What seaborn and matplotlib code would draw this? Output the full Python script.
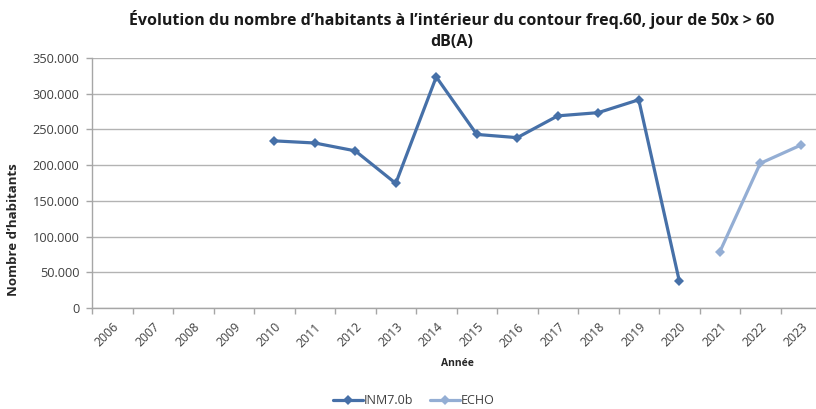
import matplotlib
matplotlib.use("Agg")
import matplotlib.pyplot as plt
from matplotlib.ticker import FuncFormatter, FixedLocator
from matplotlib.lines import Line2D
import seaborn as sns
import pandas as pd

years = list(range(2006, 2024))

inm_years = [2010, 2011, 2012, 2013, 2014, 2015, 2016, 2017, 2018, 2019, 2020]
inm_values = [234000, 231000, 220000, 174500, 323500, 243000, 238500, 269000, 273500, 291500, 38000]

echo_years = [2021, 2022, 2023]
echo_values = [78500, 202500, 228000]

series_names = ["INM7.0b", "ECHO"]
series_colors = ["#4670a8", "#94aed4"]

y_ticks = [0, 50000, 100000, 150000, 200000, 250000, 300000, 350000]

df = pd.DataFrame({
    "Année": inm_years + echo_years,
    "Nombre": inm_values + echo_values,
    "Série": [series_names[0]] * len(inm_years) + [series_names[1]] * len(echo_years),
})

sns.set_theme(style="white")
plt.rcParams["font.family"] = ["Open Sans", "DejaVu Sans"]

fig = plt.figure(figsize=(8.16, 4.09), dpi=100)
ax = fig.add_axes([92 / 816, 101 / 409, 729 / 816, 250 / 409])

palette = dict(zip(series_names, series_colors))
sns.lineplot(data=df, x="Année", y="Nombre", hue="Série", palette=palette,
             marker="D", markersize=5.5, markeredgewidth=0, linewidth=2.3,
             legend=False, ax=ax)

ax.set_xlim(years[0] - 0.5, years[-1] + 0.5)
ax.set_ylim(y_ticks[0], y_ticks[-1])

# labels at category centres, tick marks on category boundaries
ax.xaxis.set_major_locator(FixedLocator(years))
ax.set_xticklabels([str(y) for y in years], rotation=45, ha="right",
                   rotation_mode="anchor", fontsize=8.8, color="#404040")
ax.xaxis.set_minor_locator(FixedLocator([y - 0.5 for y in years] + [years[-1] + 0.5]))
ax.tick_params(axis="x", which="major", length=0, pad=9)
ax.tick_params(axis="x", which="minor", length=4, width=1, color="#a6a6a6", direction="out")

ax.set_yticks(y_ticks)
ax.yaxis.set_major_formatter(FuncFormatter(lambda v, _: f"{v:,.0f}".replace(",", ".")))
ax.tick_params(axis="y", which="major", length=4, width=1, color="#a6a6a6",
               direction="out", labelsize=9.2, labelcolor="#404040", pad=5)
ax.tick_params(axis="both", which="both", bottom=True, left=True)

ax.grid(axis="y", color="#b3b3b3", linewidth=1)
ax.grid(axis="x", visible=False)
for side in ["top", "right"]:
    ax.spines[side].set_visible(False)
for side in ["left", "bottom"]:
    ax.spines[side].set_color("#a6a6a6")
    ax.spines[side].set_linewidth(1)

ax.set_xlabel("Année", fontsize=7.5, fontweight="bold", color="#262626")
ax.xaxis.set_label_coords(0.5007, -0.2)
ax.set_ylabel("Nombre d’habitants", fontsize=9.5, fontweight="bold", color="#262626")
ax.yaxis.set_label_coords(-0.099, 0.312)

fig.text(452 / 816, 1 - 30 / 409,
         "Évolution du nombre d’habitants à l’intérieur du contour freq.60, jour de 50x > 60\ndB(A)",
         ha="center", va="center", fontsize=11.5, fontweight="bold", color="#1a1a1a",
         linespacing=1.4)

handles = [Line2D([0], [0], color=c, linewidth=2.3, marker="D", markersize=5.5,
                  markeredgewidth=0) for c in series_colors]
fig.legend(handles, series_names, loc="center", bbox_to_anchor=(414 / 816, 1 - 401 / 409),
           ncol=2, frameon=False, fontsize=9, handlelength=2.4, handletextpad=0.1,
           columnspacing=1.3, labelcolor="#404040")

fig.savefig("out.png", dpi=100)
